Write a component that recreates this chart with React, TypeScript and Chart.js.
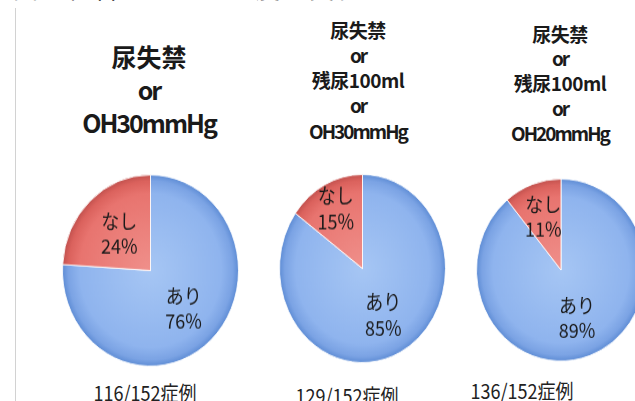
import React, { useEffect, useRef } from 'react';
import { Chart, registerables } from 'chart.js';

Chart.register(...registerables);

// ---- data ----
const categories = ['あり', 'なし'];
const ariValues = [76, 85, 89];
const nashiValues = [24, 15, 11];
const positiveCases = [116, 129, 136];
const totalCases = [152, 152, 152];
const headerLines1 = ['尿失禁', 'or', 'OH30mmHg'];
const headerLines2 = ['尿失禁', 'or', '残尿100ml', 'or', 'OH30mmHg'];
const headerLines3 = ['尿失禁', 'or', '残尿100ml', 'or', 'OH20mmHg'];
const headerLines = [headerLines1, headerLines2, headerLines3];
const titleText = '図　組合せによる感度の変化';

// ---- layout / style ----
const pieLayout = [
  { cx: 150, cy: 270, r: 87.5, sy: 1.086, labelR: [0.55, 0.52] },
  { cx: 362, cy: 268.5, r: 82.5, sy: 1.133, labelR: [0.55, 0.71] },
  { cx: 561, cy: 269.5, r: 84, sy: 1.077, labelR: [0.56, 0.62] },
];
const headerLayout = [
  { cx: 149, top: 40, size: 25, lh: 33, ls: -2 },
  { cx: 358, top: 16.5, size: 19, lh: 25.3, ls: -2 },
  { cx: 560, top: 21.5, size: 19, lh: 24.9, ls: -2 },
];
const footerLayout = [
  { cx: 145, top: 381 },
  { cx: 347, top: 384 },
  { cx: 522, top: 379 },
];
const JP = '"Noto Sans CJK JP", "Noto Sans", sans-serif';

function PieChart({ index }: { index: number }) {
  const ref = useRef<HTMLCanvasElement>(null);
  useEffect(() => {
    const L = pieLayout[index];
    const labelPlugin = {
      id: 'sliceLabels',
      afterDatasetsDraw(chart: any) {
        const { ctx } = chart;
        const meta = chart.getDatasetMeta(0);
        const vals = chart.data.datasets[0].data;
        ctx.save();
        ctx.font = '18px "Noto Sans CJK JP"';
        ctx.fillStyle = '#1a1a1a';
        ctx.textAlign = 'center';
        ctx.textBaseline = 'middle';
        meta.data.forEach((arc: any, i: number) => {
          const p = arc.getProps(['x', 'y', 'startAngle', 'endAngle', 'outerRadius'], true);
          const mid = (p.startAngle + p.endAngle) / 2;
          const rr = p.outerRadius * L.labelR[i];
          const x = p.x + Math.cos(mid) * rr;
          const y = p.y + Math.sin(mid) * rr;
          ctx.fillText(chart.data.labels[i], x, y - 11.5);
          ctx.fillText(vals[i] + '%', x, y + 11.5);
        });
        ctx.restore();
      },
    };
    const grad = (c: any) => {
      const chart = c.chart;
      const area = chart.chartArea;
      const blue = c.dataIndex === 0;
      if (!area) return blue ? '#8fb3ec' : '#e46f6a';
      const cx = (area.left + area.right) / 2;
      const cy = (area.top + area.bottom) / 2;
      const r = Math.min(area.right - area.left, area.bottom - area.top) / 2;
      const g = chart.ctx.createRadialGradient(cx, cy, 0, cx, cy, r);
      if (blue) {
        g.addColorStop(0, '#a6c6f4');
        g.addColorStop(0.8, '#8fb4ee');
        g.addColorStop(0.93, '#7ba3e4');
        g.addColorStop(1, '#5c8bd4');
      } else {
        g.addColorStop(0, '#f0908b');
        g.addColorStop(0.8, '#e8746f');
        g.addColorStop(0.93, '#db625d');
        g.addColorStop(1, '#c0504d');
      }
      return g;
    };
    const chart = new Chart(ref.current!, {
      type: 'pie',
      data: {
        labels: categories,
        datasets: [
          {
            data: [ariValues[index], nashiValues[index]],
            backgroundColor: grad,
            borderColor: 'rgba(255,255,255,0.85)',
            borderWidth: 1,
          },
        ],
      },
      options: {
        animation: false,
        responsive: true,
        maintainAspectRatio: false,
        layout: { padding: 0 },
        plugins: { legend: { display: false }, tooltip: { enabled: false } },
      },
      plugins: [labelPlugin],
    });
    return () => chart.destroy();
  }, [index]);
  const L = pieLayout[index];
  const S = 2 * L.r + 2;
  return (
    <div
      style={{
        position: 'absolute',
        left: L.cx - S / 2,
        top: L.cy - S / 2,
        width: S,
        height: S,
        transform: `scaleY(${L.sy})`,
        transformOrigin: '50% 50%',
      }}
    >
      <canvas ref={ref} />
    </div>
  );
}

const isLatin = (t: string) => /^[A-Za-z0-9]+$/.test(t);

export default function App() {
  return (
    <div
      style={{
        position: 'fixed',
        left: 0,
        top: 0,
        width: 635,
        height: 401,
        overflow: 'hidden',
        background: '#ffffff',
        fontFamily: JP,
      }}
    >
      <div
        style={{
          position: 'absolute',
          left: 13,
          top: -25,
          fontSize: 25,
          lineHeight: '25px',
          whiteSpace: 'pre',
          color: '#111',
          letterSpacing: 2,
        }}
      >
        {titleText}
      </div>
      <div style={{ position: 'absolute', left: 15, top: 8, width: 1, height: 400, background: '#d2d2d2' }} />
      {headerLines.map((lines, i) => {
        const H = headerLayout[i];
        return (
          <div
            key={'h' + i}
            style={{
              position: 'absolute',
              left: H.cx - 110,
              width: 220,
              top: H.top,
              textAlign: 'center',
              fontWeight: 700,
              fontSize: H.size,
              lineHeight: H.lh + 'px',
              color: '#1a1a1a',
            }}
          >
            {lines.map((t, j) => (
              <div key={j} style={{ letterSpacing: isLatin(t) ? H.ls : i === 0 ? 0 : -0.5 }}>
                {t}
              </div>
            ))}
          </div>
        );
      })}
      {pieLayout.map((_, i) => (
        <PieChart key={'p' + i} index={i} />
      ))}
      {positiveCases.map((n, i) => {
        const F = footerLayout[i];
        return (
          <div
            key={'f' + i}
            style={{
              position: 'absolute',
              left: F.cx - 100,
              width: 200,
              top: F.top,
              textAlign: 'center',
              fontSize: 18,
              lineHeight: '18px',
              color: '#222',
              whiteSpace: 'nowrap',
              transform: 'scaleY(1.15)',
              transformOrigin: '50% 0',
            }}
          >
            {`${n}/${totalCases[i]}症例`}
          </div>
        );
      })}
    </div>
  );
}
